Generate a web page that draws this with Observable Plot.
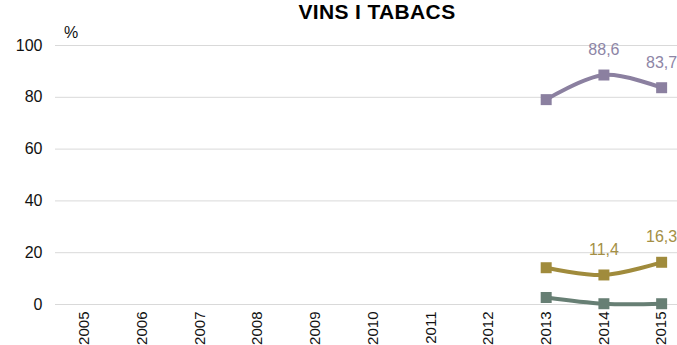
<!DOCTYPE html>
<html>
<head>
<meta charset="utf-8">
<script src="https://cdn.jsdelivr.net/npm/d3@7"></script>
<script src="https://cdn.jsdelivr.net/npm/@observablehq/plot@0.6"></script>
<style>
  html, body { margin: 0; padding: 0; background: #fff; }
  #wrap { position: relative; width: 677px; height: 345px; overflow: hidden; font-family: "Liberation Sans", Arial, sans-serif; }
  #title { position: absolute; left: 0; width: 754px; top: 0px; text-align: center; font-weight: bold; font-size: 21px; letter-spacing: 0.35px; color: #000; }
  #unit { position: absolute; left: 64px; top: 24px; font-size: 16px; color: #111; }
</style>
</head>
<body>
<div id="wrap">
  <div id="chart"></div>
  <div id="title">VINS I TABACS</div>
  <div id="unit">%</div>
</div>
<script>
const years = [2005, 2006, 2007, 2008, 2009, 2010, 2011, 2012, 2013, 2014, 2015];
const dataYears = [2013, 2014, 2015];
const seriesNames = ["purple", "gold", "green"];
const purpleValues = [79.1, 88.6, 83.7];
const goldValues = [14.2, 11.4, 16.3];
const greenValues = [2.7, 0.3, 0.3];
const labelledYears = [2014, 2015];
const yTicks = [0, 20, 40, 60, 80, 100];
const colors = { purple: "#8b80a0", gold: "#a08b3c", green: "#677f74" };
const labelColors = { purple: "#8d85a6", gold: "#a48f45" };

const valuesBySeries = { purple: purpleValues, gold: goldValues, green: greenValues };
const rows = seriesNames.flatMap(s => dataYears.map((yr, i) => ({ series: s, year: yr, value: valuesBySeries[s][i] })));
const labelRows = rows.filter(r => r.series !== "green" && labelledYears.includes(r.year));

const chart = Plot.plot({
  width: 677,
  height: 345,
  marginLeft: 55,
  marginRight: 0,
  marginTop: 45,
  marginBottom: 41,
  style: { fontFamily: "'Liberation Sans', Arial, sans-serif", background: "#fff", overflow: "hidden" },
  x: { type: "linear", domain: [2004.5, 2015.5], range: [55, 690] },
  y: { domain: [0, 100] },
  marks: [
    Plot.ruleY(yTicks, { stroke: "#d9d9d9", strokeWidth: 1 }),
    Plot.axisY({ ticks: yTicks, tickSize: 0, tickPadding: 13, fontSize: 16, fill: "#111", label: null }),
    Plot.axisX({ ticks: years, tickFormat: d => String(d), tickSize: 0, tickPadding: 7, tickRotate: -90, fontSize: 15, fill: "#111", label: null }),
    Plot.line(rows, { x: "year", y: "value", z: "series", stroke: d => colors[d.series], strokeWidth: 4, curve: "catmull-rom" }),
    Plot.dot(rows, { x: "year", y: "value", symbol: "square", r: 6.2, fill: d => colors[d.series], stroke: "none" }),
    Plot.text(labelRows, { x: "year", y: "value", text: d => d.value.toFixed(1).replace(".", ","), dy: -25, fontSize: 16, fill: d => labelColors[d.series] })
  ]
});
document.getElementById("chart").appendChild(chart);
</script>
</body>
</html>
